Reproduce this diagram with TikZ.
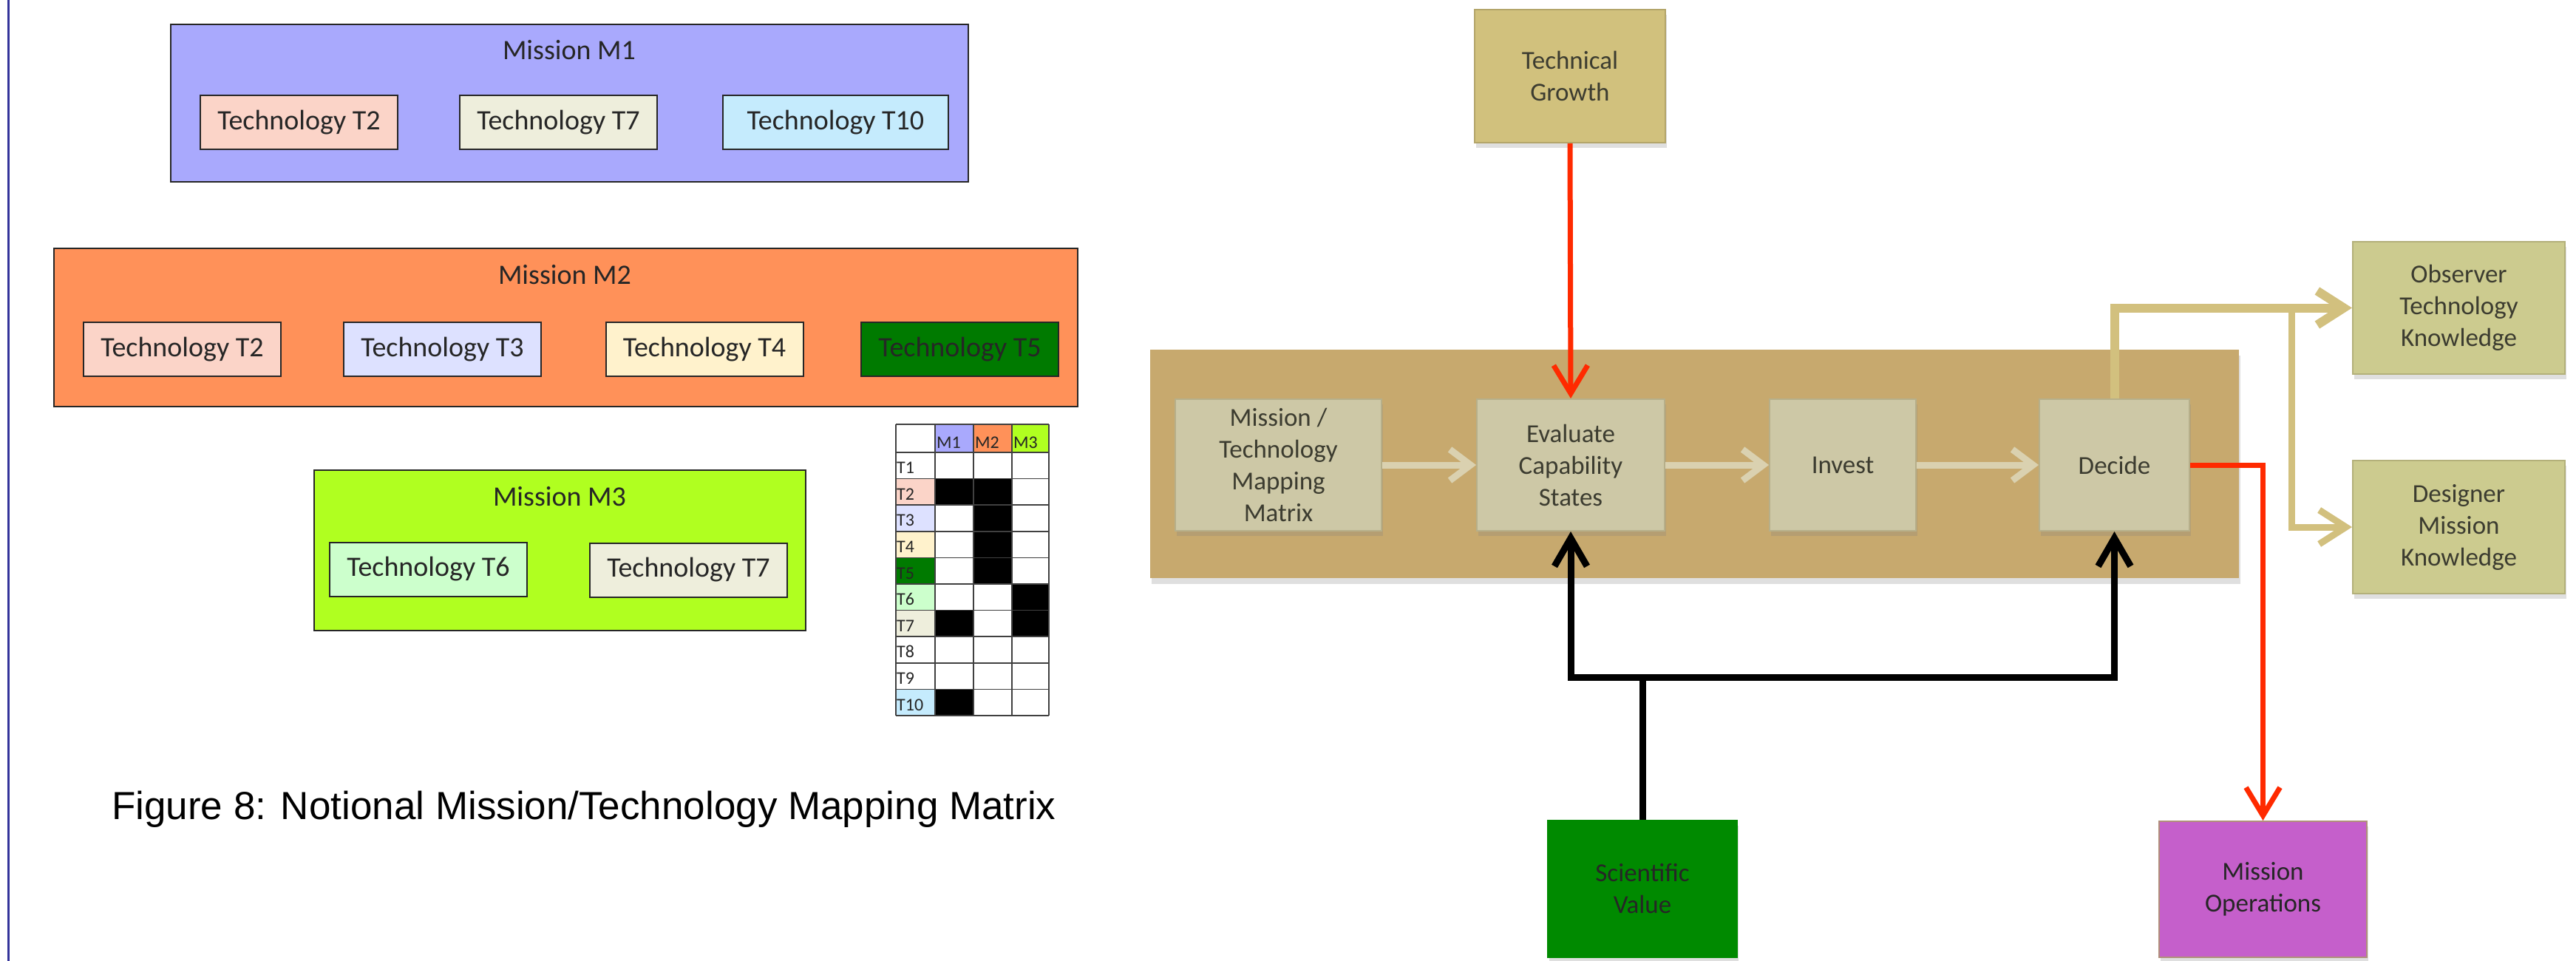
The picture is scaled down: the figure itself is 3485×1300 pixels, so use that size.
\documentclass[tikz,border=0pt]{standalone}
\usepackage{fontspec}
\setmainfont{Carlito}
\newfontfamily\capfont{Liberation Sans}
\usetikzlibrary{arrows.meta,shadows}
\definecolor{bordc}{HTML}{33339A}
\definecolor{m1c}{HTML}{A9A9FD}
\definecolor{m2c}{HTML}{FF9159}
\definecolor{m3c}{HTML}{B0FF20}
\definecolor{t2c}{HTML}{FBD4C8}
\definecolor{t3c}{HTML}{DDE1FF}
\definecolor{t4c}{HTML}{FFF2CC}
\definecolor{t5c}{HTML}{007A00}
\definecolor{t6c}{HTML}{CCFFCC}
\definecolor{t7c}{HTML}{EEEEDC}
\definecolor{t10c}{HTML}{C5EBFD}
\definecolor{bgc}{HTML}{C7A96E}
\definecolor{innerc}{HTML}{CDC8A6}
\definecolor{innerb}{HTML}{B6AF8A}
\definecolor{tgc}{HTML}{D1C17D}
\definecolor{tgb}{HTML}{B3A56A}
\definecolor{okc}{HTML}{CCCB8F}
\definecolor{okb}{HTML}{B3B07A}
\definecolor{svc}{HTML}{008A00}
\definecolor{moc}{HTML}{C55FCB}
\definecolor{mob}{HTML}{B0907A}
\definecolor{txtc}{HTML}{3C3C30}
\definecolor{redc}{HTML}{FF2A00}
\definecolor{tanc}{HTML}{DAD1B0}
\definecolor{khc}{HTML}{D2C07E}
\begin{document}
\begin{tikzpicture}[x=1pt,y=-1pt,
  mission/.style={draw=black!85,line width=2pt,inner sep=0pt},
  techbox/.style={draw=black!85,line width=2pt,inner sep=0pt,minimum width=267pt,minimum height=73pt,font=\fontsize{38}{46}\selectfont,text=black!85},
  mtitle/.style={anchor=base,inner sep=0pt,font=\fontsize{38}{46}\selectfont,text=black!85},
  cell/.style={anchor=base west,inner sep=0pt,font=\fontsize{24}{28}\selectfont,text=black!85},
  flow/.style={line width=2pt,inner sep=4pt,align=center,font=\fontsize{35}{43}\selectfont,text=txtc,drop shadow={opacity=0.25,shadow xshift=2pt,shadow yshift=-7pt}},
  innerbox/.style={flow,fill=innerc,draw=innerb,minimum height=178pt},
  redarrow/.style={draw=redc,line width=7pt,-{Straight Barb[length=38pt,width=46pt]}},
  tanarrow/.style={draw=tanc,line width=9pt,-{Straight Barb[length=28pt,width=42pt]}},
  khakiarrow/.style={draw=khc,line width=12pt,-{Straight Barb[length=36pt,width=46pt]}},
  blkarrow/.style={draw=black,line width=9pt,-{Straight Barb[length=38pt,width=44pt]}},
  blkline/.style={draw=black,line width=9pt}
]
\useasboundingbox (0,0) rectangle (3485,1300);
\fill[white] (0,0) rectangle (3485,1300);
\draw[bordc,line width=3pt] (11,0) -- (11,1300);

% ---------- Mission M1 ----------
\node[mission,fill=m1c,minimum width=1079pt,minimum height=213pt] (m1) at (770.5,139.5) {};
\node[mtitle] (m1t) at (770,81) {Mission M1};
\node[techbox,fill=t2c] (m1a) at (404.5,165.5) {Technology T2};
\node[techbox,fill=t7c] (m1b) at (755.5,165.5) {Technology T7};
\node[techbox,fill=t10c,minimum width=305pt] (m1c) at (1130.5,165.5) {Technology T10};

% ---------- Mission M2 ----------
\node[mission,fill=m2c,minimum width=1385pt,minimum height=214pt] (m2) at (765.5,443) {};
\node[mtitle] (m2t) at (764,384) {Mission M2};
\node[techbox,fill=t2c] (m2a) at (246.5,472.5) {Technology T2};
\node[techbox,fill=t3c] (m2b) at (598.5,472.5) {Technology T3};
\node[techbox,fill=t4c] (m2c) at (953,472.5) {Technology T4};
\node[techbox,fill=t5c] (m2d) at (1298.5,472.5) {Technology T5};

% ---------- Mission M3 ----------
\node[mission,fill=m3c,minimum width=665pt,minimum height=217pt] (m3) at (757.5,744.5) {};
\node[mtitle] (m3t) at (757,684) {Mission M3};
\node[techbox,fill=t6c] (m3a) at (579.5,770) {Technology T6};
\node[techbox,fill=t7c] (m3b) at (931.5,771) {Technology T7};

% ---------- Matrix ----------
\fill[m1c] (1265,574) rectangle (1317,612);
\fill[m2c] (1317,574) rectangle (1369,612);
\fill[m3c] (1369,574) rectangle (1419,612);
\foreach \i/\c in {2/t2c,3/t3c,4/t4c,5/t5c,6/t6c,7/t7c,10/t10c}
  \fill[\c] (1212,{612+(\i-1)*35.6}) rectangle (1265,{612+\i*35.6});
\foreach \xa/\xb/\i in {1265/1317/2,1265/1317/7,1265/1317/10,1317/1369/2,1317/1369/3,1317/1369/4,1317/1369/5,1369/1419/6,1369/1419/7}
  \fill[black] (\xa,{612+(\i-1)*35.6}) rectangle (\xb,{612+\i*35.6});
\foreach \x in {1212,1265,1317,1369,1419}
  \draw[black!75,line width=1.5pt] (\x,574) -- (\x,968);
\draw[black!75,line width=1.5pt] (1212,574) -- (1419,574);
\foreach \k in {0,...,10}
  \draw[black!75,line width=1.5pt] (1212,{612+\k*35.6}) -- (1419,{612+\k*35.6});
\node[cell] (h1) at (1267,606) {M1};
\node[cell] (h2) at (1319,606) {M2};
\node[cell] (h3) at (1371,606) {M3};
\foreach \i in {1,...,10}
  \node[cell] (r\i) at (1213,{612+\i*35.6-7}) {T\i};

% ---------- Caption ----------
\node[anchor=base west,inner sep=0pt,font=\capfont\fontsize{53}{62}\selectfont] (cap) at (151,1108) {Figure 8: Notional Mission/Technology Mapping Matrix};

% ---------- Flow diagram ----------
\node[fill=bgc,minimum width=1473pt,minimum height=309pt,inner sep=0pt,drop shadow={opacity=0.25,shadow xshift=2pt,shadow yshift=-8pt}] (bg) at (2292.5,627.5) {};
\node[flow,fill=tgc,draw=tgb,minimum width=258pt,minimum height=180pt] (tg) at (2124,103) {Technical\\Growth};
\node[innerbox,minimum width=279pt] (mm) at (1729.5,629) {Mission /\\Technology\\Mapping\\Matrix};
\node[innerbox,minimum width=254pt] (ev) at (2125,629) {Evaluate\\Capability\\States};
\node[innerbox,minimum width=198pt] (in) at (2493,629) {Invest};
\node[innerbox,minimum width=203pt] (de) at (2860.5,629) {Decide};
\node[flow,fill=okc,draw=okb,minimum width=287pt,minimum height=179pt] (ot) at (3326.5,416.5) {Observer\\Technology\\Knowledge};
\node[flow,fill=okc,draw=okb,minimum width=287pt,minimum height=180pt] (dm) at (3326.5,713) {Designer\\Mission\\Knowledge};
\node[flow,fill=svc,draw=svc,minimum width=256pt,minimum height=185pt,text=black!85] (sv) at (2222,1202.5) {Scientific\\Value};
\node[flow,fill=moc,draw=mob,minimum width=281pt,minimum height=184pt,text=black!85] (mo) at (3061.5,1203) {Mission\\Operations};

\draw[tanarrow] (mm.east) -- (ev.west);
\draw[tanarrow] (ev.east) -- (in.west);
\draw[tanarrow] (in.east) -- (de.west);

\draw[redarrow] (tg.south) -- (ev.north);
\draw[redarrow] (de.east) -| (mo.north);

\draw[khakiarrow] (de.north) |- (ot.west);
\coordinate (kb) at (3100,416.5);
\draw[khakiarrow,line width=9pt] (kb) |- (dm.west);

\coordinate (jn) at (2222,916);
\draw[blkline] (sv.north) -- (jn);
\draw[blkarrow] (jn) -| (ev.south);
\draw[blkarrow] (jn) -| (de.south);
\end{tikzpicture}
\end{document}
